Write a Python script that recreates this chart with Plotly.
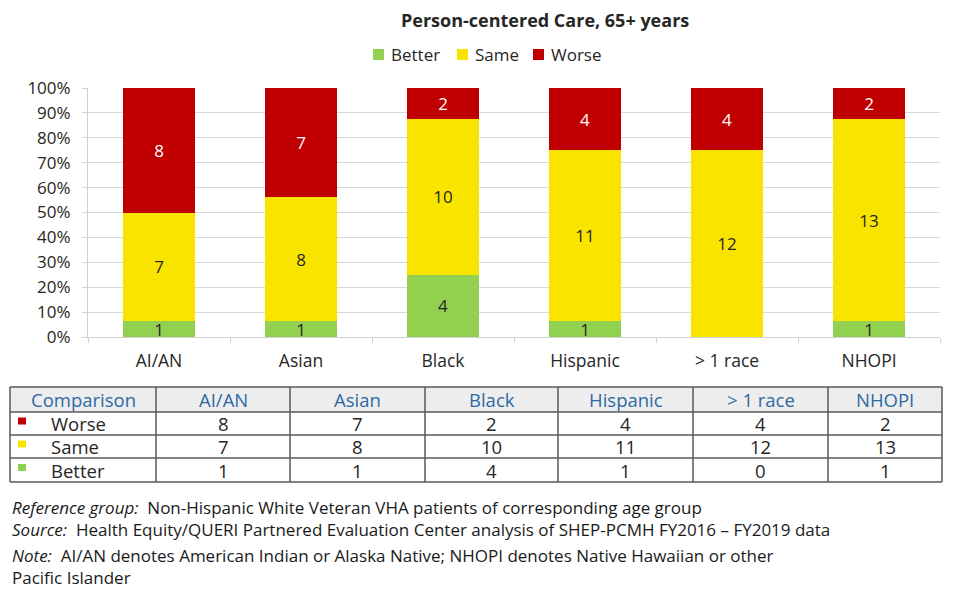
import plotly.graph_objects as go

categories = ["AI/AN", "Asian", "Black", "Hispanic", "> 1 race", "NHOPI"]
better = [1, 1, 4, 1, 0, 1]
same = [7, 8, 10, 11, 12, 13]
worse = [8, 7, 2, 4, 4, 2]
y_ticks = [0, 10, 20, 30, 40, 50, 60, 70, 80, 90, 100]
y_tick_labels = [f"{v}%" for v in y_ticks]

title_text = "Person-centered Care, 65+ years"
series_names = ["Better", "Same", "Worse"]
table_header = ["Comparison"] + categories
table_rows = [("Worse", worse), ("Same", same), ("Better", better)]
footnote_blocks = [
    [("Reference group:", "  Non-Hispanic White Veteran VHA patients of corresponding age group"),
     ("Source:", "  Health Equity/QUERI Partnered Evaluation Center analysis of SHEP-PCMH FY2016 \u2013 FY2019 data")],
    [("Note:", "  AI/AN denotes American Indian or Alaska Native; NHOPI denotes Native Hawaiian or other"),
     ("", "Pacific Islander")],
]

W, H = 953, 592
FONT = "Open Sans"
TXT = "#262626"
C_GREEN = "#92d050"
C_YELLOW = "#f9e400"
C_RED = "#c00000"
colors = {"Better": C_GREEN, "Same": C_YELLOW, "Worse": C_RED}


def px(x):
    return x / W


def py(y):
    return 1 - y / H


def lbl(vals):
    return [str(v) if v else "" for v in vals]


fig = go.Figure()
for name, vals, tcol in [("Better", better, TXT), ("Same", same, TXT), ("Worse", worse, "#ffffff")]:
    fig.add_trace(go.Bar(
        x=categories, y=vals, name=name, marker_color=colors[name],
        marker_line_width=0, width=0.51,
        text=lbl(vals), textposition="inside", insidetextanchor="middle",
        textfont=dict(family=FONT, size=17, color=tcol), textangle=0,
        showlegend=False,
    ))

fig.update_layout(
    width=W, height=H, barmode="stack", barnorm="percent",
    margin=dict(l=0, r=0, t=0, b=0),
    paper_bgcolor="white", plot_bgcolor="white",
    font=dict(family=FONT, color=TXT),
    uniformtext=dict(minsize=8, mode="show"),
    xaxis=dict(domain=[px(88), px(940)], showgrid=False, showline=True, linecolor="#d0d0d0",
               ticks="outside", tickson="boundaries", ticklen=5, tickcolor="#d0d0d0",
               ticklabelstandoff=8,
               tickfont=dict(family=FONT, size=17.5, color=TXT), automargin=False),
    yaxis=dict(domain=[1 - 337 / H, 1 - 88 / H], range=[0, 100], tickvals=y_ticks, ticktext=y_tick_labels,
               showgrid=True, gridcolor="#d9d9d9", showline=True, linecolor="#d0d0d0",
               ticks="outside", ticklen=5, tickcolor="#d0d0d0", ticklabelstandoff=8,
               tickfont=dict(family=FONT, size=17, color=TXT), automargin=False, zeroline=False),
)

ann = []
shapes = []


def text_at(x, y, t, size, color=TXT, xanchor="center", align="center"):
    ann.append(dict(x=px(x), y=py(y), xref="paper", yref="paper", text=t, showarrow=False,
                    xanchor=xanchor, yanchor="middle", align=align,
                    font=dict(family=FONT, size=size, color=color)))


def rect(x0, x1, y0, y1, fill, layer="above"):
    shapes.append(dict(type="rect", xref="paper", yref="paper", x0=px(x0), x1=px(x1),
                       y0=py(y0), y1=py(y1), fillcolor=fill, line=dict(width=0), layer=layer))


text_at(545, 20, f"<b>{title_text}</b>", 18)

# custom legend
leg_sq = [373, 457, 533]
for name, sx in zip(series_names, leg_sq):
    rect(sx, sx + 11, 49, 60, colors[name])
    text_at(sx + 16, 55, name, 17, xanchor="left")

# table
col_x = [10, 156, 290, 425, 558, 693, 828, 942]
row_y = [387, 412, 435, 458, 482]
rect(col_x[0], col_x[-1], row_y[0], row_y[1], "#ededed", layer="below")
for x in col_x:
    shapes.append(dict(type="line", xref="paper", yref="paper", x0=px(x), x1=px(x),
                       y0=py(row_y[0]), y1=py(row_y[-1]), line=dict(color="#595959", width=1.5)))
for y in row_y:
    shapes.append(dict(type="line", xref="paper", yref="paper", x0=px(col_x[0]), x1=px(col_x[-1]),
                       y0=py(y), y1=py(y), line=dict(color="#595959", width=1.5)))
for i, h in enumerate(table_header):
    cx = (col_x[i] + col_x[i + 1]) / 2
    cy = (row_y[0] + row_y[1]) / 2
    text_at(cx, cy, h, 18.5, color="#2e6aa3")
for r, (name, vals) in enumerate(table_rows):
    cy = (row_y[r + 1] + row_y[r + 2]) / 2
    rect(18, 26, cy - 6, cy + 1, colors[name])
    text_at(49, cy, name, 18.5, xanchor="left")
    for i, v in enumerate(vals):
        cx = (col_x[i + 1] + col_x[i + 2]) / 2
        text_at(cx, cy, str(v), 18.5)

# footnotes (each block = two lines)
block_y = [518, 566]
for block, y in zip(footnote_blocks, block_y):
    lines = []
    for it, rest in block:
        lines.append((f"<i>{it}</i>" if it else "") + rest.replace("  ", "\u00a0 "))
    text_at(10, y, "<br>".join(lines), 17, color="#1a1a1a", xanchor="left", align="left")

fig.update_layout(annotations=ann, shapes=shapes)
fig.write_html("out.html", config={"displayModeBar": False},
               post_script="document.body.style.margin='0';document.body.style.overflow='hidden';")
